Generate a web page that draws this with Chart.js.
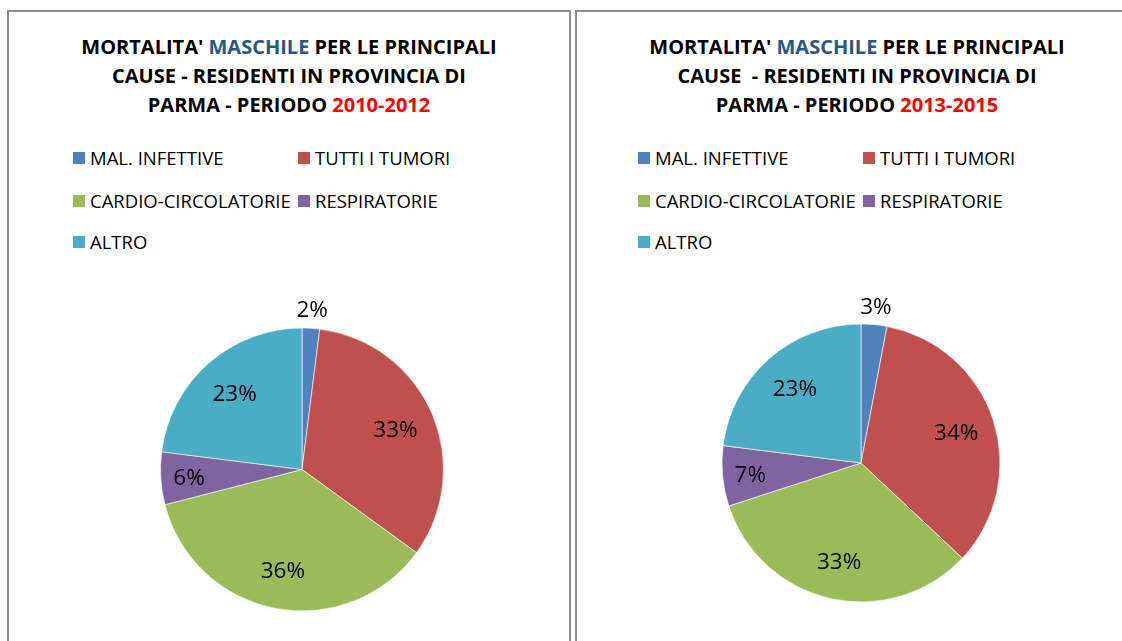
<!DOCTYPE html>
<html>
<head>
<meta charset="utf-8">
<script src="https://cdn.jsdelivr.net/npm/chart.js@4.4.1/dist/chart.umd.min.js"></script>
<style>
  html, body { margin: 0; padding: 0; background: #fff; overflow: hidden; }
  body { width: 1122px; height: 641px; position: relative; font-family: 'Open Sans', sans-serif; }
  .panel { position: absolute; top: 10px; width: 564px; height: 700px; box-sizing: border-box; border: 2px solid #8c8c8c; }
  .title { position: absolute; left: 0; width: 100%; top: 20px; text-align: center; font-weight: 700; font-size: 20px; line-height: 29px; color: #000; white-space: pre; }
  .title .blue { color: #2B5489; }
  .title .red { color: #FF0000; }
  .legend-item { position: absolute; height: 24px; line-height: 24px; font-size: 18.5px; color: #000; white-space: nowrap; }
  .legend-item i { position: absolute; left: 0; top: 6px; width: 12px; height: 12px; }
  .legend-item span { position: absolute; left: 17px; top: 0; }
  canvas { position: absolute; }
</style>
</head>
<body>
<div class="panel" id="panelA" style="left:7px"></div>
<div class="panel" id="panelB" style="left:575px"></div>
<canvas id="pieA" width="400" height="379" style="left:102px; top:280px"></canvas>
<canvas id="pieB" width="400" height="366" style="left:661px; top:280px"></canvas>
<script>
// Data
const categories = ['MAL. INFETTIVE', 'TUTTI I TUMORI', 'CARDIO-CIRCOLATORIE', 'RESPIRATORIE', 'ALTRO'];
const values2010 = [2, 33, 36, 6, 23];
const values2013 = [3, 34, 33, 7, 23];
const periods = ['2010-2012', '2013-2015'];
const colors = ['#4F81BD', '#C0504D', '#9BBB59', '#8064A2', '#4BACC6'];

// percentage labels on the slices
const pctLabels = {
    id: 'pctLabels',
    afterDatasetsDraw(chart) {
        const ctx = chart.ctx;
        const vals = chart.data.datasets[0].data;
        ctx.save();
        ctx.font = '22.5px "Open Sans"';
        ctx.fillStyle = '#000';
        ctx.textAlign = 'center';
        ctx.textBaseline = 'middle';
        chart.getDatasetMeta(0).data.forEach((arc, i) => {
            const p = arc.getProps(['x', 'y', 'startAngle', 'endAngle', 'outerRadius'], true);
            const mid = (p.startAngle + p.endAngle) / 2;
            const v = vals[i];
            const f = v <= 3 ? 1.14 : (v < 10 ? 0.8 : 0.72);
            ctx.fillText(v + '%', p.x + Math.cos(mid) * p.outerRadius * f, p.y + Math.sin(mid) * p.outerRadius * f + 2);
        });
        ctx.restore();
    }
};

function buildPanel(panelId, period, line2, legendCols) {
    const panel = document.getElementById(panelId);
    const title = document.createElement('div');
    title.className = 'title';
    title.innerHTML = "MORTALITA' <span class=\"blue\">MASCHILE</span> PER LE PRINCIPALI\n" +
        line2 + "\nPARMA - PERIODO <span class=\"red\">" + period + "</span>";
    panel.appendChild(title);

    const rows = [134, 177, 218];
    categories.forEach((name, i) => {
        const item = document.createElement('div');
        item.className = 'legend-item';
        item.style.left = legendCols[i % 2] + 'px';
        item.style.top = rows[Math.floor(i / 2)] + 'px';
        item.innerHTML = '<i style="background:' + colors[i] + '"></i><span>' + name + '</span>';
        panel.appendChild(item);
    });
}

function makePie(canvasId, values, radius) {
    return new Chart(document.getElementById(canvasId).getContext('2d'), {
        type: 'pie',
        data: {
            labels: categories,
            datasets: [{
                data: values,
                backgroundColor: colors,
                borderColor: 'rgba(255,255,255,0.6)',
                borderWidth: 1
            }]
        },
        options: {
            responsive: false,
            animation: false,
            radius: radius,
            layout: { padding: 0 },
            plugins: {
                legend: { display: false },
                tooltip: { enabled: false }
            }
        },
        plugins: [pctLabels]
    });
}

buildPanel('panelA', periods[0], 'CAUSE - RESIDENTI IN PROVINCIA DI', [64, 289]);
buildPanel('panelB', periods[1], 'CAUSE  - RESIDENTI IN PROVINCIA DI', [61, 286]);

document.fonts.load('22px "Open Sans"').then(function () {
    makePie('pieA', values2010, 141.5);
    makePie('pieB', values2013, 139);
});
</script>
</body>
</html>
